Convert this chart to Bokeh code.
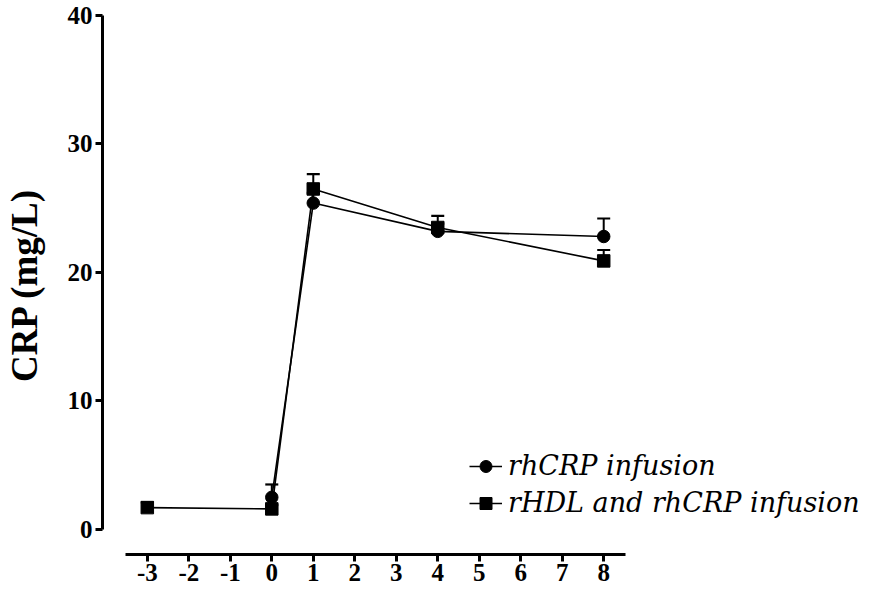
from bokeh.plotting import figure
from bokeh.models import FixedTicker, Legend, LegendItem, Range1d
from bokeh.embed import file_html
from bokeh.resources import INLINE

# Time points (days) and CRP levels (mg/L), mean with upward SEM bars
days_rhcrp = [0, 1, 4, 8]
crp_rhcrp = [2.5, 25.4, 23.2, 22.8]
sem_rhcrp = [1.0, 0.8, 0.6, 1.4]

days_rhdl = [-3, 0, 1, 4, 8]
crp_rhdl = [1.7, 1.6, 26.5, 23.5, 20.9]
sem_rhdl = [0.4, 0.3, 1.15, 0.9, 0.85]

x_ticks = [-3, -2, -1, 0, 1, 2, 3, 4, 5, 6, 7, 8]
y_ticks = [0, 10, 20, 30, 40]

series_names = ["rhCRP infusion", "rHDL and rhCRP infusion"]

SERIF = "Liberation Serif"
SERIF_ITALIC = "DejaVu Serif"

p = figure(width=873, height=592, output_backend="svg", toolbar_location=None,
           x_range=Range1d(-4.08, 14.43), y_range=Range1d(-1.95, 40.0),
           min_border_left=100, min_border_top=15, min_border_bottom=38,
           min_border_right=3)
p.outline_line_color = None
p.grid.visible = False
p.background_fill_color = "white"
p.border_fill_color = "white"

# axes: detached spines limited by bounds
for ax in (p.xaxis[0], p.yaxis[0]):
    ax.axis_line_width = 3
    ax.axis_line_color = "black"
    ax.major_tick_line_width = 3
    ax.major_tick_line_color = "black"
    ax.major_tick_in = 0
    ax.major_tick_out = 7
    ax.minor_tick_line_color = None
    ax.major_label_text_font = SERIF
    ax.major_label_text_font_style = "bold"
    ax.major_label_text_font_size = "25px"
    ax.major_label_text_color = "black"

p.xaxis.ticker = FixedTicker(ticks=x_ticks)
p.xaxis.major_label_overrides = {t: str(t) for t in x_ticks}
p.xaxis.bounds = (-3.53, 8.53)
p.xaxis.major_label_standoff = 2
p.yaxis.ticker = FixedTicker(ticks=y_ticks)
p.yaxis.bounds = (0, 40)
p.yaxis.major_label_standoff = 3
p.yaxis.axis_label = "CRP (mg/L)"
p.yaxis.axis_label_text_font = SERIF
p.yaxis.axis_label_text_font_style = "bold"
p.yaxis.axis_label_text_font_size = "37px"
p.yaxis.axis_label_text_color = "black"
p.yaxis.axis_label_standoff = 20

items = []
for name, xs, ys, es, marker in [
    (series_names[0], days_rhcrp, crp_rhcrp, sem_rhcrp, "circle"),
    (series_names[1], days_rhdl, crp_rhdl, sem_rhdl, "square"),
]:
    tops = [y + e for y, e in zip(ys, es)]
    ln = p.line(xs, ys, line_color="black", line_width=1.6)
    p.segment(x0=xs, y0=ys, x1=xs, y1=tops, line_color="black", line_width=2)
    p.scatter(xs, tops, marker="dash", size=13, line_color="black", line_width=2.2)
    sc = p.scatter(xs, ys, marker=marker, size=12.5, fill_color="black", line_color="black")
    items.append(LegendItem(label=name, renderers=[ln, sc]))

legend = Legend(items=items, location=(367, 33), orientation="vertical",
                padding=0, margin=0, spacing=0, border_line_color=None,
                background_fill_alpha=0, glyph_width=33, glyph_height=30,
                label_standoff=6, label_height=37, label_text_font=SERIF_ITALIC,
                label_text_font_style="italic", label_text_font_size="27px",
                label_text_color="black")
p.add_layout(legend, "center")

open("out.html", "w").write(file_html(p, INLINE))
